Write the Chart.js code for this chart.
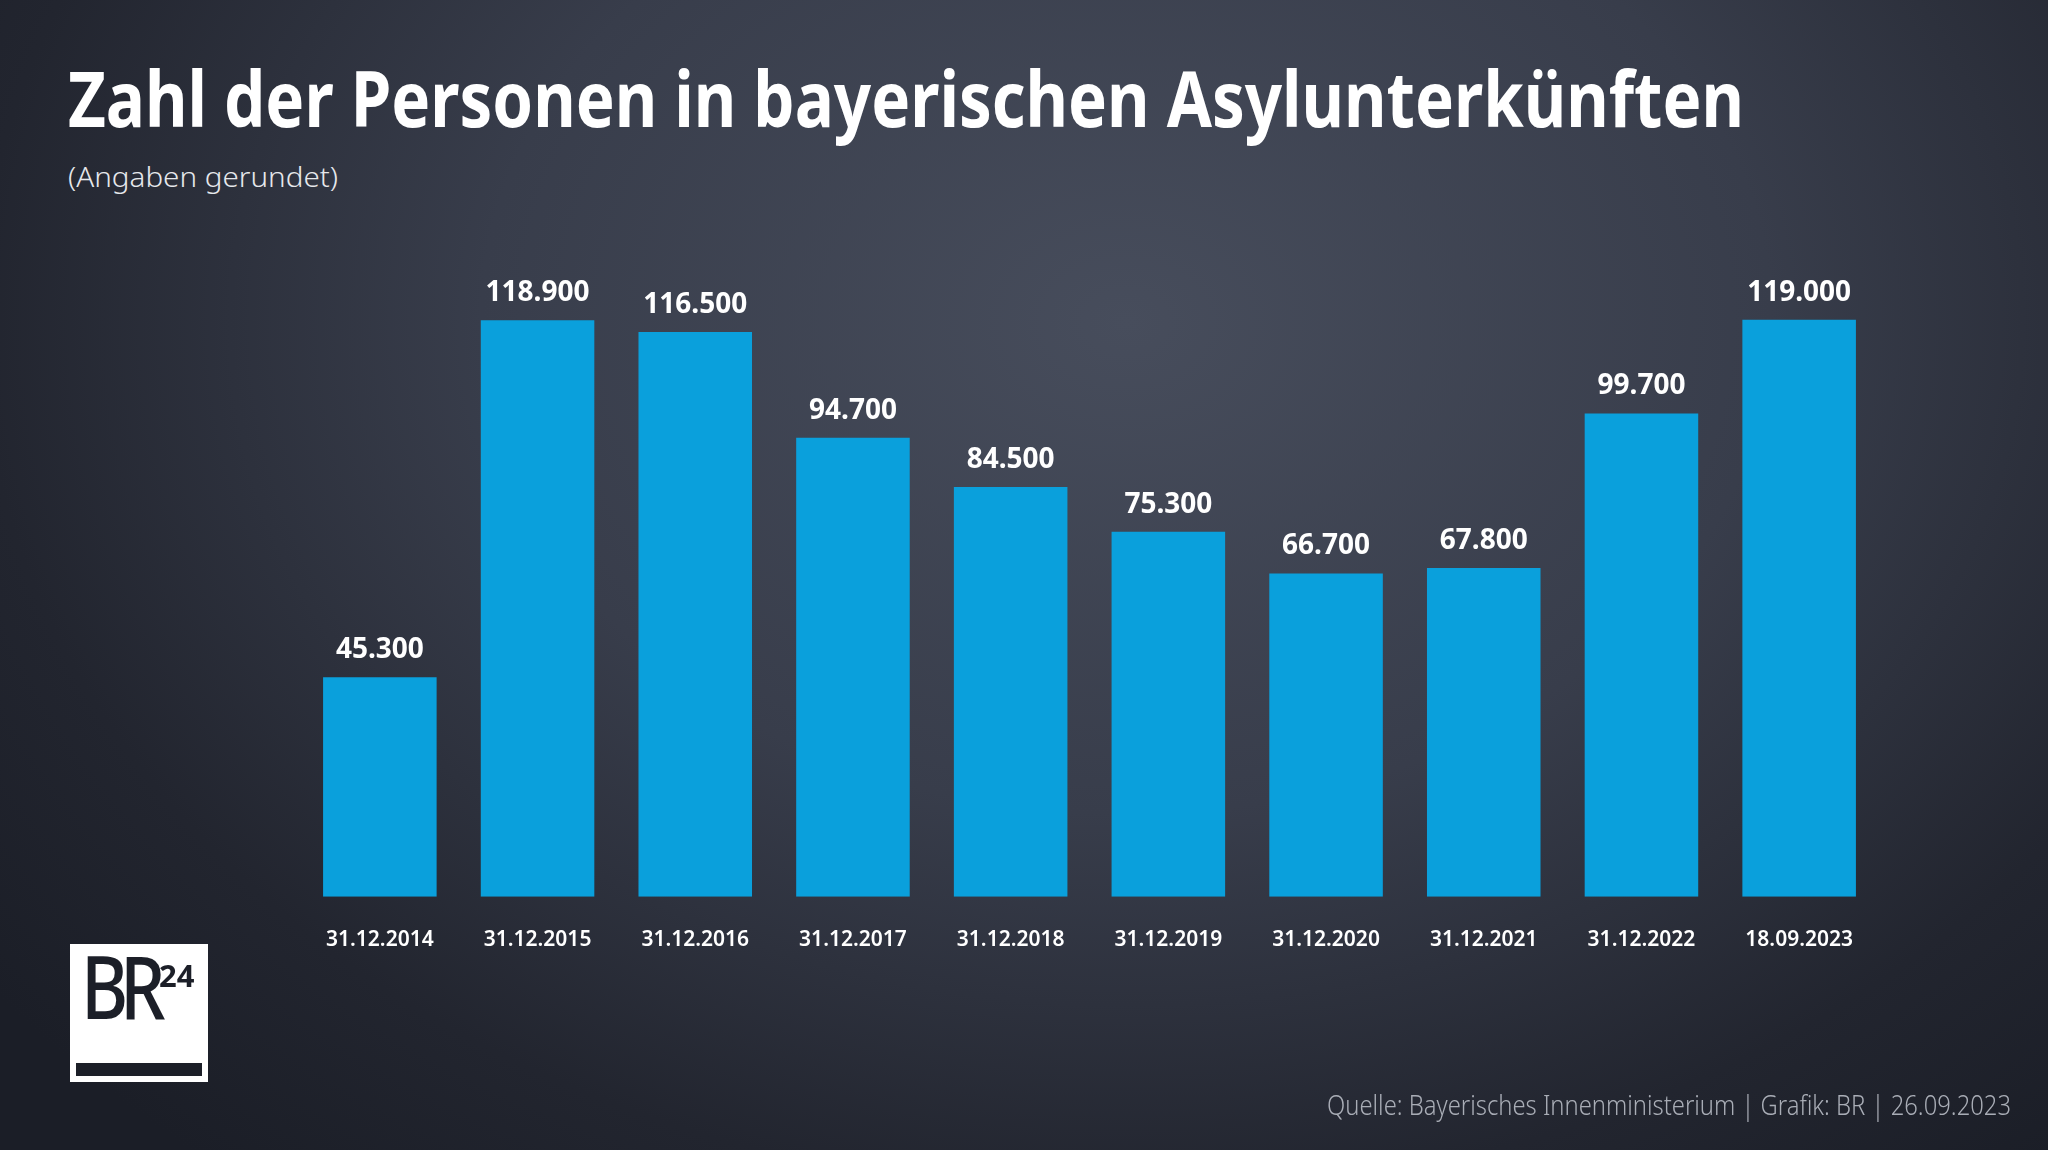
<!DOCTYPE html>
<html>
<head>
<meta charset="utf-8">
<script src="https://cdn.jsdelivr.net/npm/chart.js@4"></script>
<style>
  html, body { margin:0; padding:0; }
  body {
    width:2048px; height:1150px; overflow:hidden; position:relative;
    background: radial-gradient(ellipse 70% 95% at 55% 28%, #474d5c 0%, #383d4b 45%, #22252f 80%, #1b1e27 100%);
    font-family: "Noto Sans", sans-serif;
  }
  #chart { position:absolute; left:0; top:0; }
  .t { position:absolute; white-space:nowrap; line-height:1; display:inline-block; }
  #title { left:68px; top:59px; font-size:77px; font-weight:700; color:#ffffff; transform-origin:left top; }
  #sub { left:68px; top:162px; font-size:28px; font-weight:300; color:#e6e8ec; transform-origin:left top; }
  #src { right:37px; top:1090px; font-size:28px; font-weight:300; color:#a9adb6; transform-origin:right top; }
  #logo { position:absolute; left:70px; top:944px; width:138px; height:138px; background:#ffffff; }
  #logo .br { position:absolute; left:11px; top:-3px; font-size:88px; font-weight:500; color:#1c1f28; line-height:1; letter-spacing:-10px; transform:scaleX(0.82); transform-origin:left top; }
  #logo .n { position:absolute; left:89px; top:16px; font-size:31px; font-weight:700; color:#1c1f28; line-height:1; }
  #logo .bar { position:absolute; left:6px; top:119px; width:126px; height:13px; background:#1c1f28; }
</style>
</head>
<body>
<div id="title" class="t">Zahl der Personen in bayerischen Asylunterkünften</div>
<div id="sub" class="t">(Angaben gerundet)</div>
<canvas id="chart" width="2048" height="1150"></canvas>
<div id="logo"><span class="br">BR</span><span class="n">24</span><div class="bar"></div></div>
<div id="src" class="t">Quelle: Bayerisches Innenministerium | Grafik: BR | 26.09.2023</div>
<script>
const categories = ["31.12.2014","31.12.2015","31.12.2016","31.12.2017","31.12.2018","31.12.2019","31.12.2020","31.12.2021","31.12.2022","18.09.2023"];
const persons = [45300, 118900, 116500, 94700, 84500, 75300, 66700, 67800, 99700, 119000];

function fit(id, w){
  const el = document.getElementById(id);
  const r = el.getBoundingClientRect().width;
  el.style.transform = 'scaleX(' + (w / r) + ')';
}
fit('title', 1676);
fit('sub', 270);
fit('src', 684);

const valueLabels = {
  id: 'valueLabels',
  afterDatasetsDraw(chart) {
    const ctx = chart.ctx;
    const meta = chart.getDatasetMeta(0);
    ctx.save();
    ctx.fillStyle = '#ffffff';
    ctx.font = '700 28px "Noto Sans"';
    ctx.textAlign = 'center';
    ctx.textBaseline = 'alphabetic';
    meta.data.forEach((bar, i) => {
      const txt = persons[i].toLocaleString('de-DE');
      ctx.fillText(txt, bar.x, bar.y - 19);
    });
    ctx.restore();
  }
};

new Chart(document.getElementById('chart'), {
  type: 'bar',
  data: {
    labels: categories,
    datasets: [{
      data: persons,
      backgroundColor: '#0aa0dc',
      borderWidth: 0,
      barPercentage: 0.72,
      categoryPercentage: 1.0
    }]
  },
  options: {
    responsive: false,
    devicePixelRatio: 1,
    animation: false,
    layout: { padding: { left: 301, right: 170, top: 218, bottom: 166 } },
    plugins: { legend: { display: false }, tooltip: { enabled: false }, title: { display: false } },
    scales: {
      x: {
        grid: { display: false, drawTicks: false },
        border: { display: false },
        ticks: { color: '#ffffff', font: { family: 'Noto Sans', size: 21, weight: '600' }, padding: 31, maxRotation: 0 }
      },
      y: { display: false, min: 0, max: 140000 }
    }
  },
  plugins: [valueLabels]
});
</script>
</body>
</html>
